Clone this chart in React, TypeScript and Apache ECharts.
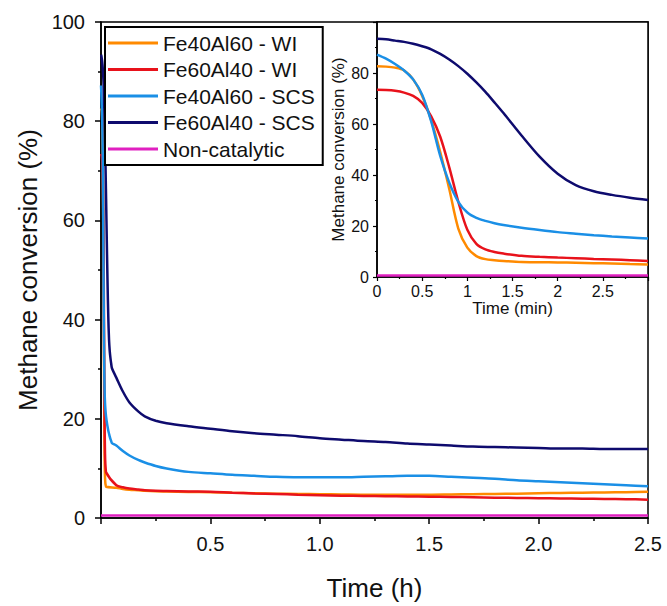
import React, { useEffect, useRef } from "react";
import * as echarts from "echarts";

// ---------- Data ----------
const seriesNames = [
  "Fe40Al60 - WI",
  "Fe60Al40 - WI",
  "Fe40Al60 - SCS",
  "Fe60Al40 - SCS",
  "Non-catalytic",
];
const seriesColors = ["#FF8A00", "#E8121B", "#1A8FE6", "#0E0B6E", "#E020C0"];

// Inset: time in minutes
const insetTime = [0, 0.1, 0.2, 0.3, 0.4, 0.5, 0.6, 0.7, 0.8, 0.9, 1.0, 1.1, 1.2, 1.3, 1.4, 1.6, 1.8, 2.0, 2.2, 2.4, 2.6, 2.8, 3.0];
const insetFe40WI = [82.6, 82.5, 82.1, 81, 77.5, 71, 61.5, 49, 34.5, 19, 11.5, 8.2, 7.0, 6.6, 6.3, 5.9, 5.8, 5.7, 5.6, 5.4, 5.3, 5.1, 4.9];
const insetFe60WI = [73.4, 73.3, 73, 72.3, 71, 68.3, 63, 55, 43, 29.5, 18.5, 13, 10.8, 9.8, 9.2, 8.3, 7.9, 7.6, 7.4, 7.1, 6.9, 6.6, 6.3];
const insetFe40SCS = [87.2, 85.6, 83.5, 81, 77.5, 71.5, 61, 47.5, 37, 29.5, 25.3, 23.2, 22, 21.1, 20.4, 19.3, 18.4, 17.6, 17, 16.4, 15.9, 15.5, 15.1];
const insetFe60SCS = [93.4, 93.2, 92.7, 92.2, 91.5, 90.5, 89.3, 87.5, 85.3, 82.7, 79.7, 76.3, 72.6, 68.5, 64.3, 55.5, 47.2, 40.5, 36, 33.6, 32.2, 31.1, 30.2];
const insetNonCatTime = [0, 3];
const insetNonCat = [0.6, 0.6];

// Main: time in hours (continues after the early minutes, which come from the inset data)
const mainTime = [0.07, 0.1, 0.13, 0.17, 0.2, 0.25, 0.3, 0.4, 0.5, 0.6, 0.7, 0.8, 0.9, 1.0, 1.1, 1.2, 1.3, 1.4, 1.5, 1.6, 1.7, 1.8, 1.9, 2.0, 2.1, 2.2, 2.3, 2.4, 2.5];
const mainFe40WI = [6.1, 5.85, 5.7, 5.6, 5.5, 5.4, 5.35, 5.25, 5.2, 5.1, 5.0, 4.9, 4.85, 4.8, 4.75, 4.7, 4.7, 4.7, 4.7, 4.75, 4.8, 4.85, 4.9, 5.0, 5.05, 5.1, 5.15, 5.2, 5.3];
const mainFe60WI = [6.6, 6.2, 5.95, 5.75, 5.6, 5.5, 5.45, 5.35, 5.3, 5.1, 4.95, 4.85, 4.7, 4.6, 4.5, 4.45, 4.4, 4.35, 4.3, 4.25, 4.2, 4.1, 4.05, 4.0, 3.95, 3.9, 3.85, 3.8, 3.7];
const mainFe40SCS = [14.6, 13.5, 12.6, 11.7, 11.2, 10.5, 10, 9.3, 9.0, 8.7, 8.5, 8.3, 8.2, 8.2, 8.2, 8.3, 8.4, 8.5, 8.5, 8.3, 8.1, 7.9, 7.6, 7.4, 7.2, 7.0, 6.8, 6.6, 6.4];
const mainFe60SCS = [28.3, 25.5, 23.3, 21.5, 20.5, 19.6, 19.1, 18.5, 18, 17.5, 17.1, 16.8, 16.5, 16.1, 15.8, 15.5, 15.3, 15, 14.8, 14.6, 14.4, 14.3, 14.2, 14.1, 14, 14, 13.9, 13.9, 13.9];
const mainNonCatTime = [0, 2.5];
const mainNonCat = [0.5, 0.5];
// how many early inset minutes each main series takes over
const mainPrefixMinutes = [1.4, 1.4, 3.0, 3.0];

// Axis ranges / ticks
const mainYMax = 100;
const mainYStep = 20;
const mainXMax = 2.5;
const mainXStep = 0.5;
const insetXMax = 3;
const insetXStep = 0.5;

const FONT = "'Liberation Sans', Arial, sans-serif";

function pairs(xs: number[], ys: number[]) {
  return xs.map((x, i) => [x, ys[i]]);
}

function mainPairs(inset: number[], main: number[], upTo: number) {
  const pre: number[][] = [];
  insetTime.forEach((t, i) => {
    if (t <= upTo) pre.push([t / 60, inset[i]]);
  });
  return pre.concat(pairs(mainTime, main));
}

export default function App() {
  const ref = useRef<HTMLDivElement>(null);

  useEffect(() => {
    if (!ref.current) return;
    const chart = echarts.init(ref.current, null, { renderer: "svg" });

    const mainData = [
      mainPairs(insetFe40WI, mainFe40WI, mainPrefixMinutes[0]),
      mainPairs(insetFe60WI, mainFe60WI, mainPrefixMinutes[1]),
      mainPairs(insetFe40SCS, mainFe40SCS, mainPrefixMinutes[2]),
      mainPairs(insetFe60SCS, mainFe60SCS, mainPrefixMinutes[3]),
      pairs(mainNonCatTime, mainNonCat),
    ];
    const insetData = [
      pairs(insetTime, insetFe40WI),
      pairs(insetTime, insetFe60WI),
      pairs(insetTime, insetFe40SCS),
      pairs(insetTime, insetFe60SCS),
      pairs(insetNonCatTime, insetNonCat),
    ];
    const drawOrder = [4, 0, 1, 2, 3];

    const series: any[] = [];
    drawOrder.forEach((i) => {
      series.push({
        name: seriesNames[i],
        type: "line",
        xAxisIndex: 0,
        yAxisIndex: 0,
        data: mainData[i],
        showSymbol: false,
        smooth: 0.3,
        lineStyle: { color: seriesColors[i], width: 2.5 },
        itemStyle: { color: seriesColors[i] },
        z: 3,
      });
    });
    drawOrder.forEach((i) => {
      series.push({
        name: seriesNames[i],
        type: "line",
        xAxisIndex: 1,
        yAxisIndex: 1,
        data: insetData[i],
        showSymbol: false,
        smooth: 0.3,
        lineStyle: { color: seriesColors[i], width: 2.5 },
        itemStyle: { color: seriesColors[i] },
        z: 5,
      });
    });

    const axisLine = { show: true, onZero: false, lineStyle: { color: "#000", width: 1.5 } };

    chart.setOption({
      animation: false,
      backgroundColor: "#fff",
      textStyle: { fontFamily: FONT },
      legend: {
        data: seriesNames,
        orient: "vertical",
        left: 105,
        top: 27,
        icon: "rect",
        itemWidth: 50,
        itemHeight: 3,
        itemGap: 2.5,
        padding: [4, 8, 4, 3],
        borderColor: "#000",
        borderWidth: 2,
        backgroundColor: "#fff",
        selectedMode: false,
        textStyle: { fontFamily: FONT, fontSize: 21, color: "#111", lineHeight: 24 },
        z: 10,
      },
      grid: [
        {
          left: 101,
          top: 22,
          right: 19,
          bottom: 78,
          show: true,
          borderColor: "#000",
          borderWidth: 1.5,
          backgroundColor: "transparent",
        },
        {
          left: 377,
          top: 22,
          width: 271,
          height: 255,
          show: true,
          borderColor: "#000",
          borderWidth: 1.5,
          backgroundColor: "#fff",
          z: 4,
        },
      ],
      xAxis: [
        {
          type: "value",
          gridIndex: 0,
          min: 0,
          max: mainXMax,
          interval: mainXStep,
          name: "Time (h)",
          nameLocation: "middle",
          nameGap: 57,
          nameTextStyle: { fontFamily: FONT, fontSize: 26, color: "#111" },
          axisLine,
          axisTick: { show: true, inside: false, length: 6, lineStyle: { color: "#000", width: 1.5 } },
          minorTick: { show: true, splitNumber: 2, length: 3, lineStyle: { color: "#000", width: 1.5 } },
          splitLine: { show: false },
          axisLabel: {
            margin: 16,
            fontFamily: FONT,
            fontSize: 20,
            color: "#111",
            formatter: (v: number) => (v === 0 ? "" : v.toFixed(1)),
          },
        },
        {
          type: "value",
          gridIndex: 1,
          min: 0,
          max: insetXMax,
          interval: insetXStep,
          name: "Time (min)",
          nameLocation: "middle",
          nameGap: 23,
          nameTextStyle: { fontFamily: FONT, fontSize: 17, color: "#111" },
          axisLine,
          axisTick: { show: true, inside: false, length: 4, lineStyle: { color: "#000", width: 1.2 } },
          minorTick: { show: true, splitNumber: 2, length: 2, lineStyle: { color: "#000", width: 1.2 } },
          splitLine: { show: false },
          axisLabel: {
            margin: 6,
            fontFamily: FONT,
            fontSize: 16,
            color: "#111",
            formatter: (v: number) => (v === insetXMax ? "" : String(v)),
          },
          z: 5,
        },
      ],
      yAxis: [
        {
          type: "value",
          gridIndex: 0,
          min: 0,
          max: mainYMax,
          interval: mainYStep,
          name: "Methane conversion (%)",
          nameLocation: "middle",
          nameGap: 56,
          nameTextStyle: { fontFamily: FONT, fontSize: 26, color: "#111" },
          axisLine,
          axisTick: { show: true, inside: false, length: 6, lineStyle: { color: "#000", width: 1.5 } },
          minorTick: { show: true, splitNumber: 2, length: 3, lineStyle: { color: "#000", width: 1.5 } },
          splitLine: { show: false },
          axisLabel: { margin: 16, fontFamily: FONT, fontSize: 20, color: "#111" },
        },
        {
          type: "value",
          gridIndex: 1,
          min: 0,
          max: mainYMax,
          interval: mainYStep,
          name: "Methane conversion (%)",
          nameLocation: "middle",
          nameGap: 30,
          nameTextStyle: { fontFamily: FONT, fontSize: 17, color: "#111" },
          axisLine,
          axisTick: { show: true, inside: false, length: 4, lineStyle: { color: "#000", width: 1.2 } },
          minorTick: { show: true, splitNumber: 2, length: 2, lineStyle: { color: "#000", width: 1.2 } },
          splitLine: { show: false },
          axisLabel: {
            margin: 8,
            fontFamily: FONT,
            fontSize: 16,
            color: "#111",
            formatter: (v: number) => (v === mainYMax ? "" : String(v)),
          },
          z: 5,
        },
      ],
      series,
    });

    return () => chart.dispose();
  }, []);

  return (
    <div
      ref={ref}
      style={{ position: "fixed", left: 0, top: 0, width: 667, height: 606, background: "#fff" }}
    />
  );
}
